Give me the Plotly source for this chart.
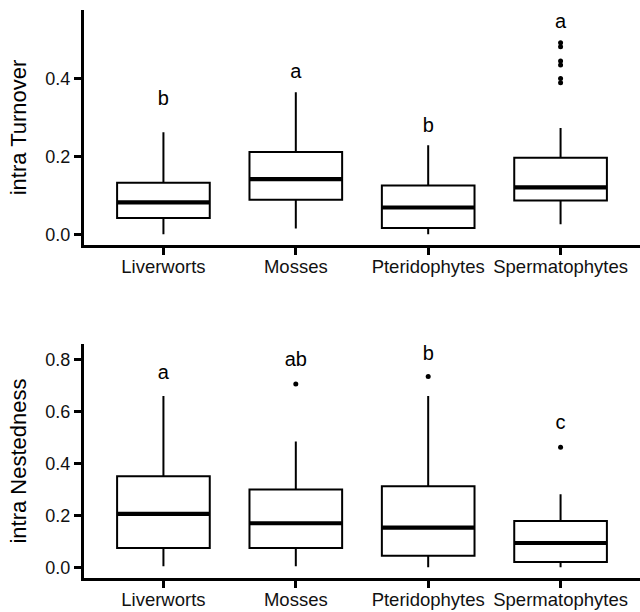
import plotly.graph_objects as go

categories = ["Liverworts", "Mosses", "Pteridophytes", "Spermatophytes"]

# Top panel: intra Turnover
turn_q1 = [0.042, 0.089, 0.016, 0.087]
turn_median = [0.082, 0.142, 0.069, 0.121]
turn_q3 = [0.133, 0.212, 0.126, 0.197]
turn_lower = [0.0, 0.015, 0.0, 0.026]
turn_upper = [0.263, 0.366, 0.229, 0.274]
turn_out_x = ["Spermatophytes"] * 6
turn_out_y = [0.493, 0.483, 0.446, 0.436, 0.401, 0.390]
turn_letters = ["b", "a", "b", "a"]
turn_letter_y = [0.346, 0.416, 0.276, 0.544]

# Bottom panel: intra Nestedness
nest_q1 = [0.075, 0.075, 0.045, 0.021]
nest_median = [0.206, 0.170, 0.153, 0.094]
nest_q3 = [0.351, 0.300, 0.313, 0.179]
nest_lower = [0.004, 0.004, 0.0, 0.0]
nest_upper = [0.661, 0.485, 0.661, 0.282]
nest_out_x = ["Mosses", "Pteridophytes", "Spermatophytes"]
nest_out_y = [0.707, 0.736, 0.463]
nest_letters = ["a", "ab", "b", "c"]
nest_letter_y = [0.746, 0.797, 0.817, 0.553]

FONT = "Liberation Sans, Arial, Helvetica, sans-serif"

fig = go.Figure()


def add_panel(xa, ya, q1, med, q3, lo, hi, ox, oy, letters, ly):
    fig.add_trace(go.Box(
        x=categories, q1=q1, median=med, q3=q3,
        lowerfence=lo, upperfence=hi,
        boxpoints=False, width=0.7, whiskerwidth=0,
        line=dict(color="black", width=2), fillcolor="white",
        xaxis=xa, yaxis=ya, showlegend=False, hoverinfo="skip"))
    # thick median line
    fig.add_trace(go.Box(
        x=categories, q1=med, median=med, q3=med,
        lowerfence=med, upperfence=med,
        boxpoints=False, width=0.7, whiskerwidth=0,
        line=dict(color="black", width=4.2), fillcolor="black",
        xaxis=xa, yaxis=ya, showlegend=False, hoverinfo="skip"))
    fig.add_trace(go.Scatter(
        x=ox, y=oy, mode="markers",
        marker=dict(color="black", size=5),
        xaxis=xa, yaxis=ya, showlegend=False, hoverinfo="skip"))
    fig.add_trace(go.Scatter(
        x=categories, y=ly, mode="text", text=letters,
        textposition="middle center",
        textfont=dict(family=FONT, size=20, color="black"),
        xaxis=xa, yaxis=ya, showlegend=False, hoverinfo="skip"))


add_panel("x", "y", turn_q1, turn_median, turn_q3, turn_lower, turn_upper,
          turn_out_x, turn_out_y, turn_letters, turn_letter_y)
add_panel("x2", "y2", nest_q1, nest_median, nest_q3, nest_lower, nest_upper,
          nest_out_x, nest_out_y, nest_letters, nest_letter_y)

W, H = 640, 612
x0 = 84 / W

axis_common = dict(
    showline=True, linewidth=3, linecolor="black",
    ticks="outside", ticklen=7, tickwidth=3, tickcolor="black",
    showgrid=False, zeroline=False, automargin=False,
)
xfont = dict(family=FONT, size=18.5, color="#111111")
yfont = dict(family=FONT, size=18, color="#111111")

fig.update_layout(
    width=W, height=H,
    margin=dict(l=0, r=0, t=0, b=0),
    paper_bgcolor="white", plot_bgcolor="white",
    boxmode="overlay",
    font=dict(family=FONT, color="black"),
    xaxis=dict(axis_common, domain=[x0, 1], anchor="y", tickfont=xfont,
               ticklabelstandoff=-4,
               type="category", categoryorder="array", categoryarray=categories,
               range=[-0.6, 3.6]),
    yaxis=dict(axis_common, domain=[1 - 245 / H, 1 - 10 / H], anchor="x",
               tickfont=yfont,
               range=[-0.0275, 0.5775], tickvals=[0, 0.2, 0.4],
               ticktext=["0.0", "0.2", "0.4"],
               title=dict(text="intra Turnover",
                          font=dict(family=FONT, size=22, color="black"),
                          standoff=13)),
    xaxis2=dict(axis_common, domain=[x0, 1], anchor="y2", tickfont=xfont,
                ticklabelstandoff=-4,
                type="category", categoryorder="array", categoryarray=categories,
                range=[-0.6, 3.6]),
    yaxis2=dict(axis_common, domain=[1 - 578 / H, 1 - 344 / H], anchor="x2",
                tickfont=yfont,
                range=[-0.041, 0.861], tickvals=[0, 0.2, 0.4, 0.6, 0.8],
                ticktext=["0.0", "0.2", "0.4", "0.6", "0.8"],
                title=dict(text="intra Nestedness",
                           font=dict(family=FONT, size=22, color="black"),
                           standoff=13)),
)

fig.write_html("out.html",
               config={"displayModeBar": False},
               post_script="document.body.style.margin='0';"
                           "document.body.style.overflow='hidden';")
